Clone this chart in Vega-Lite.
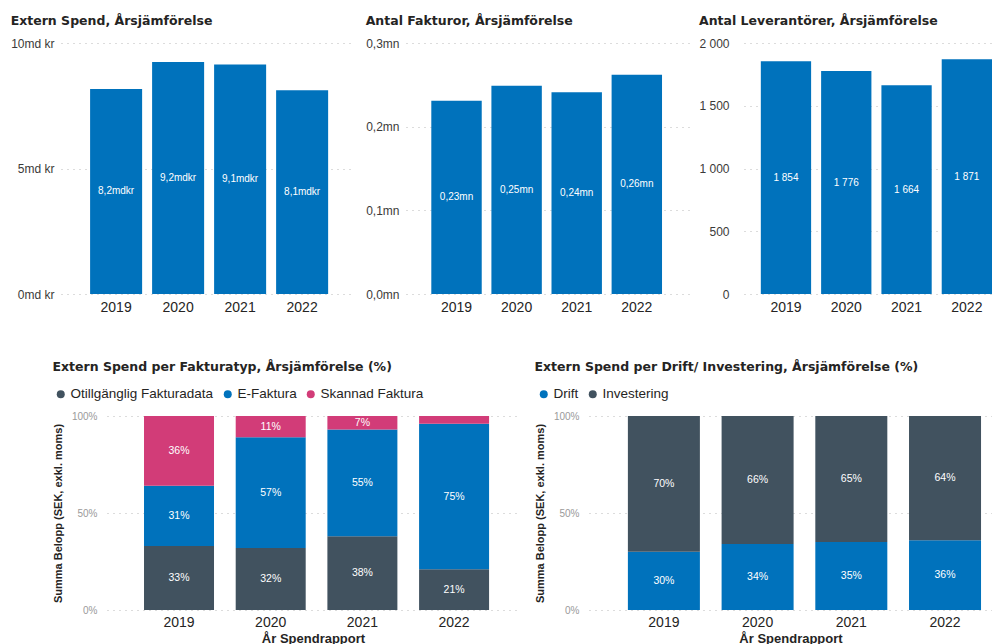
{
  "$schema": "https://vega.github.io/schema/vega-lite/v6.json",
  "autosize": {"type": "pad"},
  "padding": {"left": 10, "top": 14, "right": 0, "bottom": 0},
  "background": "white",
  "config": {
    "locale": {"number": {"decimal": ",", "thousands": " ", "grouping": [3], "currency": ["", " kr"]}},
    "view": {"stroke": null},
    "font": "Liberation Sans",
    "axis": {"domain": false, "ticks": false, "labelFont": "Liberation Sans", "titleFont": "Liberation Sans"},
    "axisY": {"grid": true, "gridDash": [1, 5], "gridColor": "#b8b8b8", "gridWidth": 1, "labelColor": "#3b3a39", "labelFontSize": 12, "labelPadding": 7},
    "axisX": {"grid": false, "labelFontSize": 14, "labelColor": "#252423", "labelPadding": 6, "labelAngle": 0},
    "title": {"font": "DejaVu Sans", "fontSize": 12.5, "fontWeight": "bold", "color": "#252423", "anchor": "start", "frame": "bounds", "offset": 10},
    "legend": {"labelFont": "Liberation Sans", "labelFontSize": 13.5, "labelColor": "#252423", "symbolType": "circle", "symbolSize": 64, "symbolStrokeWidth": 0, "columnPadding": 7, "labelOffset": 3}
  },
  "resolve": {"scale": {"color": "independent"}, "legend": {"color": "independent"}},
  "vconcat": [
    {
      "hconcat": [
        {
          "width": 290, "height": 251,
          "title": {"text": "Extern Spend, Årsjämförelse"},
          "data": {"values": [
            {"year": "2019", "v": 8.17},
            {"year": "2020", "v": 9.24},
            {"year": "2021", "v": 9.14},
            {"year": "2022", "v": 8.12}
          ]},
          "transform": [
            {"calculate": "datum.v / 2", "as": "mid"},
            {"calculate": "replace(format(datum.v, '.1f'), '.', ',') + 'mdkr'", "as": "lbl"}
          ],
          "encoding": {
            "x": {"field": "year", "type": "nominal", "title": null, "scale": {"paddingInner": 0.161, "paddingOuter": 0.419, "align": 0.56}}
          },
          "layer": [
            {"mark": {"type": "bar", "color": "#0072BC"},
             "encoding": {"y": {"field": "v", "type": "quantitative", "title": null, "scale": {"domain": [0, 10]},
               "axis": {"values": [0, 5, 10], "labelExpr": "datum.value + 'md kr'"}}}},
            {"mark": {"type": "text", "color": "white", "fontSize": 10},
             "encoding": {"y": {"field": "mid", "type": "quantitative", "title": null, "scale": {"domain": [0, 10]},
               "axis": {"values": [0, 5, 10], "labelExpr": "datum.value + 'md kr'"}}, "text": {"field": "lbl"}}}
          ]
        },
        {
          "width": 283, "height": 251,
          "title": {"text": "Antal Fakturor, Årsjämförelse"},
          "data": {"values": [
            {"year": "2019", "v": 0.231},
            {"year": "2020", "v": 0.249},
            {"year": "2021", "v": 0.241},
            {"year": "2022", "v": 0.262}
          ]},
          "transform": [
            {"calculate": "datum.v / 2", "as": "mid"},
            {"calculate": "replace(format(datum.v, '.2f'), '.', ',') + 'mn'", "as": "lbl"}
          ],
          "encoding": {
            "x": {"field": "year", "type": "nominal", "title": null, "scale": {"paddingInner": 0.161, "paddingOuter": 0.435, "align": 0.484}}
          },
          "layer": [
            {"mark": {"type": "bar", "color": "#0072BC"},
             "encoding": {"y": {"field": "v", "type": "quantitative", "title": null, "scale": {"domain": [0, 0.3]},
               "axis": {"values": [0, 0.1, 0.2, 0.3], "labelExpr": "replace(format(datum.value, '.1f'), '.', ',') + 'mn'"}}}},
            {"mark": {"type": "text", "color": "white", "fontSize": 10},
             "encoding": {"y": {"field": "mid", "type": "quantitative", "title": null, "scale": {"domain": [0, 0.3]},
               "axis": {"values": [0, 0.1, 0.2, 0.3], "labelExpr": "replace(format(datum.value, '.1f'), '.', ',') + 'mn'"}}, "text": {"field": "lbl"}}}
          ]
        },
        {
          "width": 248, "height": 251,
          "title": {"text": "Antal Leverantörer, Årsjämförelse"},
          "data": {"values": [
            {"year": "2019", "v": 1854},
            {"year": "2020", "v": 1776},
            {"year": "2021", "v": 1664},
            {"year": "2022", "v": 1871}
          ]},
          "transform": [
            {"calculate": "datum.v / 2", "as": "mid"},
            {"calculate": "replace(format(datum.v, ',d'), ',', ' ')", "as": "lbl"}
          ],
          "encoding": {
            "x": {"field": "year", "type": "nominal", "title": null, "scale": {"paddingInner": 0.166, "paddingOuter": 0.1395, "align": 1}}
          },
          "layer": [
            {"mark": {"type": "bar", "color": "#0072BC"},
             "encoding": {"y": {"field": "v", "type": "quantitative", "title": null, "scale": {"domain": [0, 2000]},
               "axis": {"values": [0, 500, 1000, 1500, 2000], "labelPadding": 15, "labelExpr": "replace(format(datum.value, ',d'), ',', ' ')"}}}},
            {"mark": {"type": "text", "color": "white", "fontSize": 10},
             "encoding": {"y": {"field": "mid", "type": "quantitative", "title": null, "scale": {"domain": [0, 2000]},
               "axis": {"values": [0, 500, 1000, 1500, 2000], "labelPadding": 15, "labelExpr": "replace(format(datum.value, ',d'), ',', ' ')"}}, "text": {"field": "lbl"}}}
          ]
        }
      ],
      "spacing": 55,
      "bounds": "flush"
    },
    {
      "hconcat": [
        {
          "width": 46, "height": 194,
          "data": {"values": [{}]},
          "mark": {"type": "text", "text": ""},
          "encoding": {}
        },
        {
          "resolve": {"scale": {"color": "independent"}, "legend": {"color": "independent"}},
          "hconcat": [
            {
              "width": 412, "height": 194,
              "title": {"text": "Extern Spend per Fakturatyp, Årsjämförelse (%)", "offset": 14},
              "data": {"values": [
                {"year": "2019", "type": "Otillgänglig Fakturadata", "ord": 1, "pct": 33},
                {"year": "2019", "type": "E-Faktura", "ord": 2, "pct": 31},
                {"year": "2019", "type": "Skannad Faktura", "ord": 3, "pct": 36},
                {"year": "2020", "type": "Otillgänglig Fakturadata", "ord": 1, "pct": 32},
                {"year": "2020", "type": "E-Faktura", "ord": 2, "pct": 57},
                {"year": "2020", "type": "Skannad Faktura", "ord": 3, "pct": 11},
                {"year": "2021", "type": "Otillgänglig Fakturadata", "ord": 1, "pct": 38},
                {"year": "2021", "type": "E-Faktura", "ord": 2, "pct": 55},
                {"year": "2021", "type": "Skannad Faktura", "ord": 3, "pct": 7},
                {"year": "2022", "type": "Otillgänglig Fakturadata", "ord": 1, "pct": 21},
                {"year": "2022", "type": "E-Faktura", "ord": 2, "pct": 75},
                {"year": "2022", "type": "Skannad Faktura", "ord": 3, "pct": 4}
              ]},
              "transform": [
                {"stack": "pct", "groupby": ["year"], "sort": [{"field": "ord", "order": "ascending"}], "as": ["y0", "y1"]},
                {"calculate": "(datum.y0 + datum.y1) / 2", "as": "mid"},
                {"calculate": "datum.pct + '%'", "as": "lbl"}
              ],
              "encoding": {
                "x": {"field": "year", "type": "nominal", "scale": {"paddingInner": 0.2366, "paddingOuter": 0.365, "align": 0.553},
                  "axis": {"title": "År Spendrapport", "titleFontSize": 13, "titleFontWeight": "bold", "titleColor": "#252423", "titlePadding": 3, "labelPadding": 5}}
              },
              "layer": [
                {"mark": {"type": "bar"},
                 "encoding": {
                   "y": {"field": "y0", "type": "quantitative", "scale": {"domain": [0, 100]},
                     "axis": {"values": [0, 50, 100], "labelExpr": "datum.value + '%'", "labelColor": "#9a9a9a", "labelFontSize": 10, "labelPadding": 10,
                       "title": "Summa Belopp (SEK, exkl. moms)", "titleFontSize": 11, "titleFontWeight": "bold", "titleColor": "#252423", "titlePadding": 8}},
                   "y2": {"field": "y1"},
                   "color": {"field": "type", "type": "nominal",
                     "scale": {"domain": ["Otillgänglig Fakturadata", "E-Faktura", "Skannad Faktura"], "range": ["#41525F", "#0072BC", "#D23C78"]},
                     "legend": {"orient": "none", "legendX": -53, "legendY": -29, "direction": "horizontal", "title": null}}
                 }},
                {"transform": [{"filter": "datum.pct >= 5"}],
                 "mark": {"type": "text", "color": "white", "fontSize": 10.5},
                 "encoding": {"y": {"field": "mid", "type": "quantitative", "scale": {"domain": [0, 100]},
                     "axis": {"values": [0, 50, 100], "labelExpr": "datum.value + '%'", "labelColor": "#9a9a9a", "labelFontSize": 10, "labelPadding": 10,
                       "title": "Summa Belopp (SEK, exkl. moms)", "titleFontSize": 11, "titleFontWeight": "bold", "titleColor": "#252423", "titlePadding": 8}},
                   "text": {"field": "lbl"}}}
              ]
            },
            {
              "width": 403, "height": 194,
              "title": {"text": "Extern Spend per Drift/ Investering, Årsjämförelse (%)", "offset": 14},
              "data": {"values": [
                {"year": "2019", "type": "Drift", "ord": 1, "pct": 30},
                {"year": "2019", "type": "Investering", "ord": 2, "pct": 70},
                {"year": "2020", "type": "Drift", "ord": 1, "pct": 34},
                {"year": "2020", "type": "Investering", "ord": 2, "pct": 66},
                {"year": "2021", "type": "Drift", "ord": 1, "pct": 35},
                {"year": "2021", "type": "Investering", "ord": 2, "pct": 65},
                {"year": "2022", "type": "Drift", "ord": 1, "pct": 36},
                {"year": "2022", "type": "Investering", "ord": 2, "pct": 64}
              ]},
              "transform": [
                {"stack": "pct", "groupby": ["year"], "sort": [{"field": "ord", "order": "ascending"}], "as": ["y0", "y1"]},
                {"calculate": "(datum.y0 + datum.y1) / 2", "as": "mid"},
                {"calculate": "datum.pct + '%'", "as": "lbl"}
              ],
              "encoding": {
                "x": {"field": "year", "type": "nominal", "scale": {"paddingInner": 0.2316, "paddingOuter": 0.266, "align": 0.78},
                  "axis": {"title": "År Spendrapport", "titleFontSize": 13, "titleFontWeight": "bold", "titleColor": "#252423", "titlePadding": 3, "labelPadding": 5}}
              },
              "layer": [
                {"mark": {"type": "bar"},
                 "encoding": {
                   "y": {"field": "y0", "type": "quantitative", "scale": {"domain": [0, 100]},
                     "axis": {"values": [0, 50, 100], "labelExpr": "datum.value + '%'", "labelColor": "#9a9a9a", "labelFontSize": 10, "labelPadding": 10,
                       "title": "Summa Belopp (SEK, exkl. moms)", "titleFontSize": 11, "titleFontWeight": "bold", "titleColor": "#252423", "titlePadding": 8}},
                   "y2": {"field": "y1"},
                   "color": {"field": "type", "type": "nominal",
                     "scale": {"domain": ["Drift", "Investering"], "range": ["#0072BC", "#41525F"]},
                     "legend": {"orient": "none", "legendX": -52, "legendY": -29, "direction": "horizontal", "title": null}}
                 }},
                {"mark": {"type": "text", "color": "white", "fontSize": 10.5},
                 "encoding": {"y": {"field": "mid", "type": "quantitative", "scale": {"domain": [0, 100]},
                     "axis": {"values": [0, 50, 100], "labelExpr": "datum.value + '%'", "labelColor": "#9a9a9a", "labelFontSize": 10, "labelPadding": 10,
                       "title": "Summa Belopp (SEK, exkl. moms)", "titleFontSize": 11, "titleFontWeight": "bold", "titleColor": "#252423", "titlePadding": 8}},
                   "text": {"field": "lbl"}}}
              ]
            }
          ],
          "spacing": 70,
          "bounds": "flush"
        }
      ],
      "spacing": 0,
      "bounds": "flush"
    }
  ],
  "spacing": 46
}
